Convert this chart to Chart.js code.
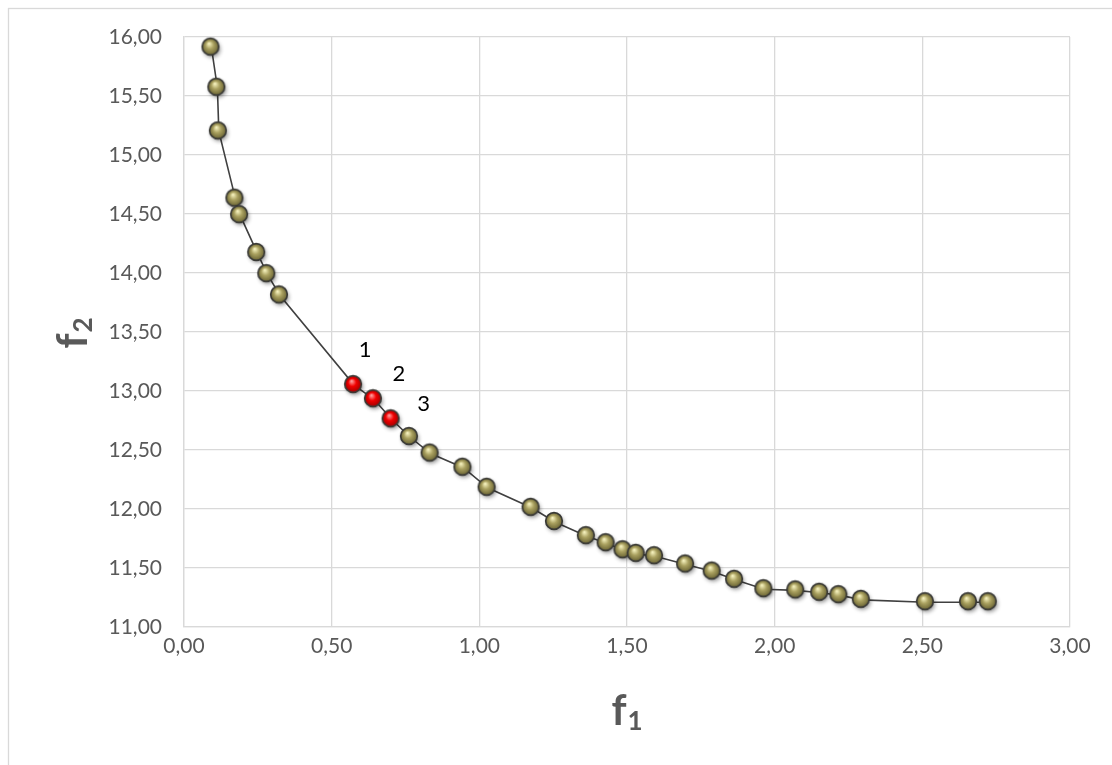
<!DOCTYPE html>
<html>
<head>
<meta charset="utf-8">
<script src="https://cdn.jsdelivr.net/npm/chart.js@4.4.1/dist/chart.umd.min.js"></script>
<style>
  html, body { margin: 0; padding: 0; background: #ffffff; }
  #wrap { width: 1112px; height: 765px; position: relative; }
</style>
</head>
<body>
<div id="wrap"><canvas id="c" width="1112" height="765"></canvas></div>
<script>
// Pareto front: f1 versus f2
const f1Values = [0.093, 0.113, 0.118, 0.174, 0.190, 0.248, 0.282, 0.325,
                  0.576, 0.643, 0.703,
                  0.765, 0.835, 0.946, 1.028, 1.177, 1.256, 1.364, 1.431, 1.488,
                  1.533, 1.595, 1.700, 1.790, 1.866, 1.965, 2.073, 2.154, 2.219,
                  2.295, 2.512, 2.658, 2.725];
const f2Values = [15.91, 15.57, 15.20, 14.63, 14.49, 14.17, 13.99, 13.81,
                  13.05, 12.93, 12.76,
                  12.61, 12.47, 12.35, 12.18, 12.01, 11.89, 11.77, 11.71, 11.65,
                  11.62, 11.60, 11.53, 11.47, 11.40, 11.32, 11.31, 11.29, 11.27,
                  11.23, 11.21, 11.21, 11.21];
// highlighted solutions (index into the series) and their labels
const highlightIndex = [8, 9, 10];
const highlightLabels = ['1', '2', '3'];
const xTicks = { min: 0, max: 3, step: 0.5 };
const yTicks = { min: 11, max: 16, step: 0.5 };

// shaded ball used as the marker image
function makeBall(light, mid, dark) {
  const size = 28, r = 8.3, cx = 13, cy = 13;
  const cv = document.createElement('canvas');
  cv.width = size; cv.height = size;
  const g = cv.getContext('2d');
  g.save();
  g.shadowColor = 'rgba(0,0,0,0.45)';
  g.shadowBlur = 4;
  g.shadowOffsetX = 1.5;
  g.shadowOffsetY = 2.5;
  g.beginPath();
  g.arc(cx, cy, r, 0, Math.PI * 2);
  g.fillStyle = mid;
  g.fill();
  g.restore();
  const grad = g.createRadialGradient(cx - 1.5, cy - 3, 0.5, cx, cy, r);
  grad.addColorStop(0, light);
  grad.addColorStop(0.45, mid);
  grad.addColorStop(1, dark);
  g.beginPath();
  g.arc(cx, cy, r, 0, Math.PI * 2);
  g.fillStyle = grad;
  g.fill();
  g.lineWidth = 1.7;
  g.strokeStyle = '#3a3a36';
  g.stroke();
  return cv;
}
const oliveBall = makeBall('#f4f0bc', '#aaa160', '#6a6434');
const redBall = makeBall('#ff9a9a', '#f20000', '#a00000');

const points = f1Values.map((x, i) => ({ x: x, y: f2Values[i] }));
const pointStyles = f1Values.map((_, i) => highlightIndex.includes(i) ? redBall : oliveBall);

const fmt = v => v.toFixed(2).replace('.', ',');

// outer frame of the chart
const framePlugin = {
  id: 'frame',
  beforeDraw(chart) {
    const ctx = chart.ctx;
    ctx.save();
    ctx.fillStyle = '#ffffff';
    ctx.fillRect(0, 0, chart.width, chart.height);
    ctx.strokeStyle = '#d9d9d9';
    ctx.lineWidth = 1.3;
    ctx.strokeRect(8.5, 8.5, chart.width + 20, chart.height + 20);
    ctx.restore();
  }
};

// number labels beside the highlighted solutions
const labelOffsets = [[11, -35], [25, -25], [32, -15]];
const pointLabelPlugin = {
  id: 'pointLabels',
  afterDatasetsDraw(chart) {
    const meta = chart.getDatasetMeta(0);
    const ctx = chart.ctx;
    ctx.save();
    ctx.font = '22px Lato, "Open Sans", sans-serif';
    ctx.fillStyle = '#000000';
    ctx.textAlign = 'center';
    ctx.textBaseline = 'middle';
    highlightIndex.forEach((idx, k) => {
      const el = meta.data[idx];
      ctx.fillText(highlightLabels[k], el.x + labelOffsets[k][0], el.y + labelOffsets[k][1]);
    });
    ctx.restore();
  }
};

// axis titles with subscripts
function drawSubTitle(ctx, main, sub, x, y) {
  ctx.font = 'bold 42px Lato, "Open Sans", sans-serif';
  const wMain = ctx.measureText(main).width;
  ctx.font = 'bold 26px Lato, "Open Sans", sans-serif';
  const wSub = ctx.measureText(sub).width;
  const total = wMain + wSub + 1;
  ctx.textBaseline = 'alphabetic';
  ctx.textAlign = 'left';
  ctx.font = 'bold 42px Lato, "Open Sans", sans-serif';
  ctx.fillText(main, x - total / 2, y);
  ctx.font = 'bold 26px Lato, "Open Sans", sans-serif';
  ctx.fillText(sub, x - total / 2 + wMain + 1, y + 5);
}
const axisTitlePlugin = {
  id: 'axisTitles',
  afterDraw(chart) {
    const ctx = chart.ctx;
    ctx.save();
    ctx.fillStyle = '#595959';
    drawSubTitle(ctx, 'f', '1', 627, 725);
    ctx.translate(87, 333);
    ctx.rotate(-Math.PI / 2);
    drawSubTitle(ctx, 'f', '2', 0, 0);
    ctx.restore();
  }
};

new Chart(document.getElementById('c'), {
  type: 'scatter',
  data: {
    datasets: [{
      data: points,
      showLine: true,
      borderColor: '#404040',
      borderWidth: 1.6,
      pointStyle: pointStyles,
      pointRadius: 9,
      pointHoverRadius: 9,
      backgroundColor: '#aaa160'
    }]
  },
  options: {
    responsive: false,
    devicePixelRatio: 1,
    animation: false,
    events: [],
    layout: { padding: { left: 0, top: 37, right: 42, bottom: 0 } },
    plugins: { legend: { display: false }, tooltip: { enabled: false } },
    scales: {
      x: {
        type: 'linear',
        min: xTicks.min, max: xTicks.max,
        afterFit(scale) { scale.height = 138; },
        grid: { color: '#d9d9d9', lineWidth: 1.3, drawTicks: false },
        border: { color: '#d9d9d9', width: 1.3 },
        ticks: {
          stepSize: xTicks.step,
          padding: 7,
          color: '#595959',
          font: { family: 'Lato, "Open Sans", sans-serif', size: 21 },
          callback: v => fmt(v)
        }
      },
      y: {
        type: 'linear',
        min: yTicks.min, max: yTicks.max,
        afterFit(scale) { scale.width = 184; },
        grid: { color: '#d9d9d9', lineWidth: 1.3, drawTicks: false },
        border: { color: '#d9d9d9', width: 1.3 },
        ticks: {
          stepSize: yTicks.step,
          padding: 22,
          color: '#595959',
          font: { family: 'Lato, "Open Sans", sans-serif', size: 21 },
          callback: v => fmt(v)
        }
      }
    }
  },
  plugins: [framePlugin, pointLabelPlugin, axisTitlePlugin]
});
</script>
</body>
</html>
